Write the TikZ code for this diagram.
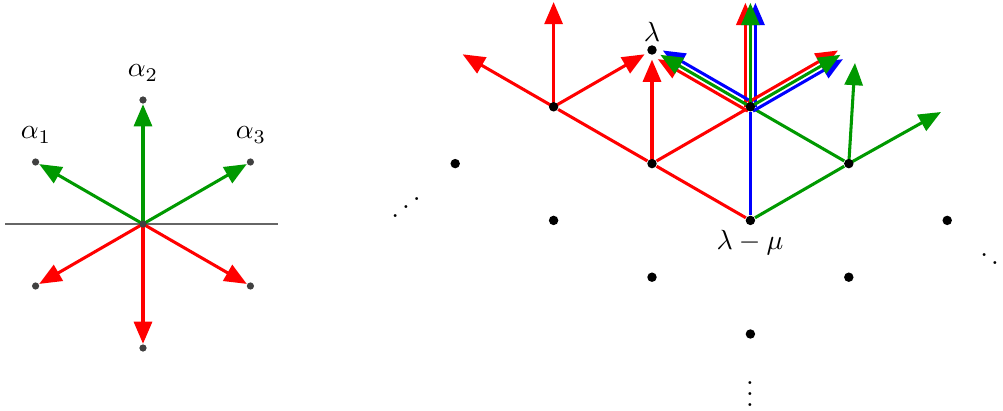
\documentclass[tikz,border=0pt]{standalone}
\usetikzlibrary{arrows.meta,calc}
\definecolor{dgreen}{RGB}{0,153,0}
\definecolor{dotgray}{RGB}{64,64,64}
\pgfdeclarelayer{bg}
\pgfsetlayers{bg,main}
\begin{document}
\begin{tikzpicture}[x=0.36pt,y=-0.36pt,
  vec/.style={line width=1.1pt,-{Triangle[length=8pt,width=6.5pt]}},
  seg/.style={line width=1.1pt},
  ldot/.style={circle,fill=black,inner sep=0pt,minimum size=3.4pt},
  gdot/.style={circle,fill=dotgray,inner sep=0pt,minimum size=2.6pt},
  axis/.style={line width=0.6pt,draw=black!60}]
\useasboundingbox (0,0) rectangle (1003,410);
% ---------- left: root system ----------
\node[gdot] (O) at (143,224) {};
\node[gdot] (p2) at (143,100) {};
\node[gdot] (p1) at (35.6,162) {};
\node[gdot] (p3) at (250.4,162) {};
\node[gdot] (p4) at (35.6,286) {};
\node[gdot] (p5) at (250.4,286) {};
\node[gdot] (p6) at (143,348) {};
\node (a2) at (143,73) {$\alpha_2$};
\node (a1) at (36,135) {$\alpha_1$};
\node (a3) at (251,135) {$\alpha_3$};
\coordinate (hl) at (5,224);
\coordinate (hr) at (278,224);
\begin{pgfonlayer}{bg}
\draw[axis] (hl) -- (hr);
\draw[vec,dgreen] (O.center) -- (p1);
\draw[vec,dgreen] (O.center) -- (p2);
\draw[vec,dgreen] (O.center) -- (p3);
\draw[vec,red] (O.center) -- (p4);
\draw[vec,red] (O.center) -- (p5);
\draw[vec,red] (O.center) -- (p6);
\end{pgfonlayer}
% ---------- right: weight lattice ----------
\node[ldot] (lam) at (652,50) {};
\node[ldot] (A) at (553.6,106.8) {};
\node[ldot] (B) at (750.4,106.8) {};
\node[ldot] (L1) at (455.2,163.6) {};
\node[ldot] (C) at (652,163.6) {};
\node[ldot] (E) at (848.8,163.6) {};
\node[ldot] (L2) at (553.6,220.4) {};
\node[ldot] (D) at (750.4,220.4) {};
\node[ldot] (R1) at (947.2,220.4) {};
\node[ldot] (L3) at (652,277.2) {};
\node[ldot] (R2) at (848.8,277.2) {};
\node[ldot] (M) at (750.4,334) {};
\node (laml) at (652,32) {$\lambda$};
\node (lmul) at (750,243) {$\lambda-\mu$};
\node (ddl) at (406,199) {\reflectbox{$\ddots$}};
\node (ddr) at (995,255) {$\ddots$};
\node (vd) at (750,386) {$\vdots$};
% arrow tips
\coordinate (Au) at (553.6,2);
\coordinate (Al) at (462.6,54.3);
\coordinate (Ar) at (644.6,54.3);
\coordinate (Cu) at (652,59.6);
\coordinate (Bu) at (750.4,2.8);
\coordinate (Bl) at (660.3,54.8);
\coordinate (Br) at (840.5,54.8);
\coordinate (Eu) at (855,63);
\coordinate (Er) at (941,112);
\begin{pgfonlayer}{bg}
\draw[seg,red] (D) -- (C) -- (A);
\draw[seg,red] (C) -- (B);
\draw[seg,blue] (D) -- (B);
\draw[seg,dgreen] (D) -- (E) -- (B);
\draw[vec,red] (A.center) -- (Au);
\draw[vec,red] (A.center) -- (Al);
\draw[vec,red] (A.center) -- (Ar);
\draw[vec,red] (C.center) -- (Cu);
\foreach \t/\dx/\dy in {Bu/-5/0, Bl/-2.5/4.33, Br/-2.5/-4.33}{
  \draw[vec,red] ($(B.center)+(\dx,\dy)$) -- ($(\t)+(\dx,\dy)$);
  \draw[vec,blue] ($(B.center)-(\dx,\dy)$) -- ($(\t)-(\dx,\dy)$);
}
\foreach \t in {Bu,Bl,Br}{
  \draw[vec,dgreen] (B.center) -- (\t);
}
\draw[vec,dgreen] (E.center) -- (Eu);
\draw[vec,dgreen] (E.center) -- (Er);
\end{pgfonlayer}
\end{tikzpicture}
\end{document}
